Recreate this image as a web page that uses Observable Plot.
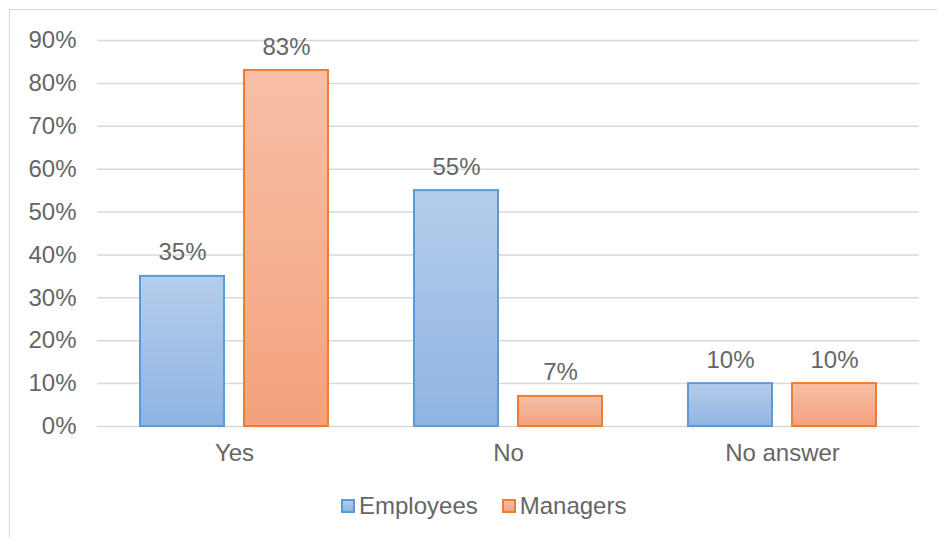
<!DOCTYPE html>
<html>
<head>
<meta charset="utf-8">
<script src="https://cdn.jsdelivr.net/npm/d3@7"></script>
<script src="https://cdn.jsdelivr.net/npm/@observablehq/plot@0.6"></script>
<style>
  html, body { margin: 0; padding: 0; background: #fff; }
  body { width: 937px; height: 537px; position: relative; overflow: hidden; font-family: "Liberation Sans", Arial, sans-serif; }
  #frame { position: absolute; left: 9px; top: 9px; width: 1000px; height: 1000px; border: 1.5px solid #d9d9d9; box-sizing: border-box; pointer-events: none; }
  #chart { position: absolute; left: 0; top: 0; }
  #legend { position: absolute; left: 341px; top: 493px; display: flex; align-items: center; font-size: 24px; color: #666; line-height: 26px; }
  .item { display: flex; align-items: center; }
  .sw { width: 10px; height: 10px; margin-right: 4px; border: 2px solid; }
</style>
</head>
<body>
<div id="frame"></div>
<div id="chart"></div>
<div id="legend">
  <div class="item"><span class="sw" style="border-color:#5b9bd5;background:linear-gradient(#b5cdeb,#8fb4e3)"></span><span>Employees</span></div>
  <div class="item" style="margin-left:24px"><span class="sw" style="border-color:#ed7d31;background:linear-gradient(#f7c0a8,#f4a17c)"></span><span>Managers</span></div>
</div>
<script>
const categories = ["Yes", "No", "No answer"];
const seriesNames = ["Employees", "Managers"];
const employees = [35, 55, 10];
const managers = [83, 7, 10];
const yTicks = [0, 10, 20, 30, 40, 50, 60, 70, 80, 90];

const data = [];
categories.forEach((c, i) => {
  data.push({category: c, series: "Employees", value: employees[i]});
  data.push({category: c, series: "Managers", value: managers[i]});
});

const chart = Plot.plot({
  width: 937,
  height: 480,
  marginTop: 40,
  marginBottom: 54,
  marginLeft: 96,
  marginRight: 17,
  style: {fontFamily: "Liberation Sans, Arial, sans-serif", fontSize: "24px", color: "#666", background: "transparent", overflow: "visible"},
  fx: {domain: categories, padding: 0, axis: "bottom", label: null, tickSize: 0, tickPadding: 17},
  x: {domain: seriesNames, paddingInner: 0.19, paddingOuter: 0.403, axis: null},
  y: {domain: [0, 90], ticks: yTicks, tickFormat: d => d + "%", tickSize: 0, tickPadding: 21, label: null},
  marks: [
    Plot.ruleY(yTicks, {stroke: "#d9d9d9", strokeWidth: 1.5}),
    Plot.barY(data.filter(d => d.series === "Employees"), {fx: "category", x: "series", y: "value", fill: "url(#gradE)", stroke: "#5b9bd5", strokeWidth: 2}),
    Plot.barY(data.filter(d => d.series === "Managers"), {fx: "category", x: "series", y: "value", fill: "url(#gradM)", stroke: "#ed7d31", strokeWidth: 2}),
    Plot.text(data, {fx: "category", x: "series", y: "value", text: d => d.value + "%", lineAnchor: "bottom", dy: -16, fill: "#666", fontSize: 24})
  ]
});

const defs = d3.select(chart).insert("defs", ":first-child");
function grad(id, top, bottom) {
  const g = defs.append("linearGradient").attr("id", id).attr("x1", 0).attr("y1", 0).attr("x2", 0).attr("y2", 1);
  g.append("stop").attr("offset", "0%").attr("stop-color", top);
  g.append("stop").attr("offset", "100%").attr("stop-color", bottom);
}
grad("gradE", "#b5cdeb", "#8fb4e3");
grad("gradM", "#f7c0a8", "#f4a17c");

document.getElementById("chart").appendChild(chart);
</script>
</body>
</html>
